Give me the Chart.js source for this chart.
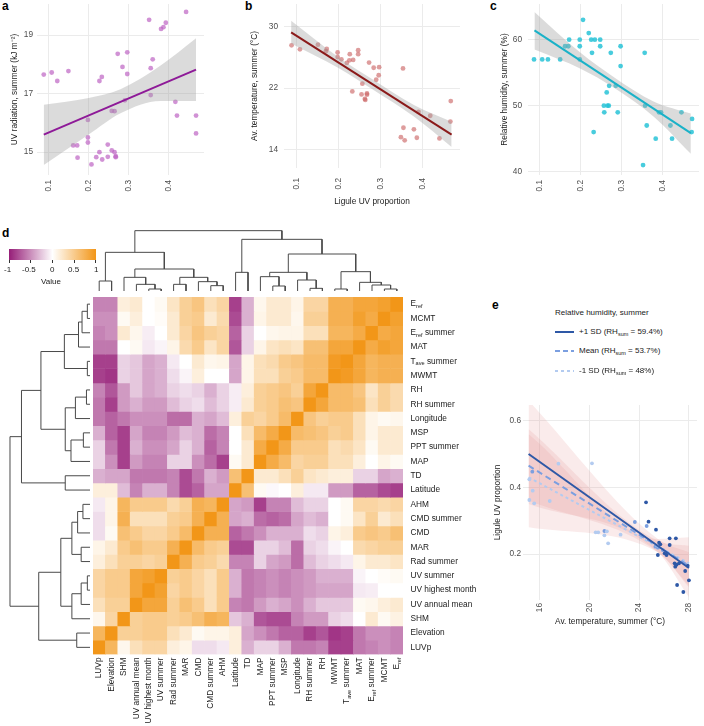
<!DOCTYPE html>
<html><head><meta charset="utf-8">
<script src="https://cdn.jsdelivr.net/npm/chart.js@4.4.1/dist/chart.umd.min.js"></script>
<style>
html,body{margin:0;padding:0;background:#fff;}
body{width:704px;height:726px;position:relative;overflow:hidden;font-family:'Liberation Sans',Arial,sans-serif;color:#1a1a1a;}
canvas{position:absolute;}
.lab{position:absolute;font-weight:bold;font-size:12px;line-height:12px;color:#000;}
.t{position:absolute;font-size:8px;line-height:10px;white-space:nowrap;color:#1a1a1a;}
.t sub{font-size:5.5px;vertical-align:-2px;line-height:0;}
.tk{position:absolute;width:1px;height:3px;background:#333;}
.abs{position:absolute;}
</style></head><body>
<div class="lab" style="left:2px;top:0px">a</div>
<div class="lab" style="left:245px;top:0px">b</div>
<div class="lab" style="left:490px;top:0px">c</div>
<div class="lab" style="left:2px;top:227px">d</div>
<div class="lab" style="left:492px;top:299px">e</div>

<canvas id="ca" width="208" height="200" style="left:0;top:0"></canvas>
<canvas id="cb" width="234" height="215" style="left:230px;top:0"></canvas>
<canvas id="cc" width="238" height="200" style="left:465px;top:0"></canvas>
<canvas id="ctop" width="310" height="63" style="left:93px;top:228px"></canvas>
<canvas id="cleft" width="82" height="358" style="left:8px;top:297px"></canvas>
<canvas id="cheat" width="400" height="429" style="left:93px;top:297px"></canvas>
<canvas id="ce" width="211" height="235" style="left:490px;top:400px"></canvas>

<!-- colour bar legend -->
<div class="abs" style="left:9px;top:249px;width:87px;height:11px;background:linear-gradient(to right, rgb(150,30,120), #fff, rgb(242,150,24));"></div>
<div class="tk" style="left:9px;top:260px"></div>
<div class="tk" style="left:30px;top:260px"></div>
<div class="tk" style="left:52px;top:260px"></div>
<div class="tk" style="left:74px;top:260px"></div>
<div class="tk" style="left:95px;top:260px"></div>
<div class="t" style="left:4px;top:265px">-1</div>
<div class="t" style="left:22px;top:265px">-0.5</div>
<div class="t" style="left:50px;top:265px">0</div>
<div class="t" style="left:68px;top:265px">0.5</div>
<div class="t" style="left:94px;top:265px">1</div>
<div class="t" style="left:41px;top:277px">Value</div>

<!-- legend e -->
<div class="t" style="left:555px;top:308px">Relative humidity, summer</div>
<svg class="abs" style="left:555px;top:330px" width="19" height="4"><line x1="0" y1="2" x2="19" y2="2" stroke="#2e58a6" stroke-width="2"/></svg>
<div class="t" style="left:579px;top:327px">+1 SD (RH<sub>sum</sub> = 59.4%)</div>
<svg class="abs" style="left:555px;top:349px" width="19" height="4"><line x1="0" y1="2" x2="19" y2="2" stroke="#7b9fe0" stroke-width="2" stroke-dasharray="5,3"/></svg>
<div class="t" style="left:579px;top:346px">Mean (RH<sub>sum</sub> = 53.7%)</div>
<svg class="abs" style="left:555px;top:369px" width="19" height="4"><line x1="0" y1="2" x2="19" y2="2" stroke="#b3cbf0" stroke-width="2" stroke-dasharray="3,3"/></svg>
<div class="t" style="left:579px;top:366px">-1 SD (RH<sub>sum</sub> = 48%)</div>

<script>
// ---------------- DATA ----------------
// panel a: UV radiation vs ligule UV proportion
const aX = [0.087,0.107,0.121,0.149,0.161,0.171,0.172,0.198,0.198,0.198,0.207,0.219,0.227,0.227,0.233,0.234,0.248,0.248,0.258,0.258,0.265,0.265,0.268,0.268,0.273,0.285,0.291,0.297,0.297,0.352,0.356,0.356,0.361,0.382,0.388,0.394,0.418,0.422,0.445,0.47,0.47];
const aY = [17.65,17.72,17.43,17.77,15.23,15.23,14.81,16.1,15.5,15.33,14.58,14.83,15.0,17.43,17.57,14.75,15.26,14.84,15.06,16.41,16.4,15.0,14.86,14.83,18.36,17.91,16.77,18.41,17.67,19.52,17.87,16.95,18.17,19.21,19.27,19.42,16.72,16.25,19.79,16.25,15.64];
const fitX = [0.087, 0.47];
const aFit = [15.6, 17.82];
const bandX = [0.087, 0.2, 0.28, 0.38, 0.47];
const aUpper = [16.62, 16.85, 17.15, 17.95, 18.89];
const aLower = [14.56, 15.6, 16.33, 16.75, 16.75];

// panel b: av. temperature summer
const bX = [0.088,0.108,0.151,0.172,0.170,0.198,0.198,0.207,0.22,0.226,0.227,0.235,0.247,0.247,0.233,0.257,0.255,0.263,0.264,0.268,0.268,0.273,0.284,0.29,0.296,0.297,0.354,0.349,0.355,0.358,0.38,0.387,0.391,0.419,0.441,0.467,0.468];
const bY = [27.6,27.08,27.68,27.13,26.83,26.66,26.07,25.77,25.3,25.64,26.45,25.69,26.96,26.45,21.58,22.59,21.19,20.6,20.47,21.32,21.15,25.35,24.67,23.1,23.69,24.75,24.58,15.6,16.83,15.18,16.62,15.52,18.91,18.4,15.43,17.64,20.31];
const bFit = [29.29, 15.94];
const bUpper = [30.8, 26.05, 23.2, 19.8, 17.6];
const bLower = [27.85, 24.65, 21.9, 18.3, 14.33];

// panel c: relative humidity summer
const cX = [0.086,0.106,0.12,0.15,0.162,0.17,0.172,0.198,0.198,0.198,0.206,0.22,0.226,0.228,0.235,0.232,0.248,0.248,0.257,0.258,0.264,0.266,0.269,0.27,0.274,0.286,0.291,0.298,0.298,0.353,0.357,0.358,0.362,0.384,0.392,0.397,0.42,0.424,0.447,0.473,0.472];
const cY = [57,57,57,57,59,59,60,60,59,57,63,61,60,58,60,46,60,59,50,49,52,50,50,53,58,53,49,59,56,41,58,50,47,45,49,49,47,45,49,48,46];
const cFit = [61.4, 45.85];
const cUpper = [64.2, 58.0, 54.4, 50.6, 48.8];
const cLower = [58.5, 55.6, 52.8, 48.3, 42.7];

// panel d: correlation heatmap (rows top->bottom, columns left->right)
const colNames = ['LUVp','Elevation','SHM','UV annual mean','UV highest month','UV summer','Rad summer','MAR','CMD','CMD summer','AHM','Latitude','TD','MAP','PPT summer','MSP','Longitude','RH summer','RH','MWMT','T_{ave} summer','MAT','E_{ref} summer','MCMT','E_{ref}'];
const rowNames = colNames.slice().reverse();
const heat = [
 [-0.55,-0.55,0.15,0.2,0,0.05,0.25,0.45,0.55,0.3,0.4,-0.85,-0.35,0.08,0.2,0.2,0.1,0.4,0.4,0.75,0.75,0.85,0.85,0.9,1],
 [-0.5,-0.5,0.05,0.15,0,0.03,0.2,0.45,0.5,0.2,0.35,-0.8,-0.35,0.1,0.2,0.2,0.08,0.45,0.45,0.75,0.75,0.9,0.8,1,0.9],
 [-0.55,-0.5,0.2,0.08,-0.08,0,0.2,0.4,0.55,0.45,0.4,-0.7,-0.2,0,0.08,0.1,0.1,0.3,0.3,0.7,0.7,0.8,1,0.8,0.85],
 [-0.6,-0.6,0,0.05,-0.1,-0.05,0.1,0.35,0.5,0.25,0.4,-0.75,-0.2,0.1,0.25,0.3,0.25,0.6,0.6,0.85,0.85,1,0.8,0.9,0.85],
 [-0.85,-0.85,-0.2,-0.25,-0.4,-0.35,-0.1,0,0.2,0.08,0.1,-0.4,0.1,0.3,0.35,0.5,0.55,0.65,0.65,0.95,1,0.85,0.7,0.75,0.75],
 [-0.85,-0.9,-0.2,-0.25,-0.4,-0.35,-0.15,-0.05,0.15,0,0,-0.4,0.1,0.3,0.3,0.45,0.5,0.65,0.65,1,0.95,0.85,0.7,0.75,0.75],
 [-0.55,-0.75,-0.45,-0.25,-0.4,-0.35,-0.2,-0.15,-0.2,-0.35,-0.2,-0.08,0.15,0.45,0.5,0.55,0.45,0.85,1,0.65,0.65,0.55,0.25,0.45,0.35],
 [-0.6,-0.85,-0.45,-0.35,-0.45,-0.45,-0.3,-0.2,-0.15,-0.3,-0.2,-0.08,0.2,0.45,0.5,0.6,0.55,1,0.85,0.65,0.65,0.6,0.3,0.45,0.35],
 [-0.6,-0.7,-0.6,-0.5,-0.5,-0.5,-0.65,-0.65,-0.35,-0.4,-0.3,0.15,0.45,0.4,0.5,0.65,1,0.55,0.45,0.5,0.5,0.3,0.1,0.05,0.08],
 [-0.35,-0.7,-0.85,-0.4,-0.55,-0.55,-0.45,-0.3,-0.35,-0.65,-0.55,0,0.3,0.65,0.8,1,0.65,0.6,0.55,0.45,0.5,0.3,0.1,0.2,0.2],
 [-0.2,-0.6,-0.85,-0.35,-0.5,-0.5,-0.4,-0.2,-0.35,-0.7,-0.55,0,0.2,0.8,1,0.8,0.5,0.5,0.5,0.3,0.35,0.25,0.05,0.2,0.2],
 [-0.2,-0.5,-0.85,-0.45,-0.55,-0.55,-0.2,-0.2,-0.5,-0.65,-0.85,0.05,0.2,1,0.8,0.65,0.4,0.45,0.45,0.3,0.3,0.15,0,0.1,0.05],
 [-0.35,-0.4,-0.4,-0.6,-0.6,-0.6,-0.55,-0.8,-0.6,-0.35,-0.45,0.6,1,0.2,0.2,0.3,0.45,0.25,0.2,0.15,0.15,-0.2,-0.2,-0.4,-0.35],
 [0.15,0.15,-0.3,-0.55,-0.35,-0.35,-0.55,-0.8,-0.7,-0.4,-0.4,1,0.6,0.05,-0.03,0,0.15,-0.1,-0.1,-0.45,-0.45,-0.7,-0.7,-0.8,-0.85],
 [-0.1,0.1,0.7,0.5,0.5,0.5,0.35,0.45,0.75,0.7,1,-0.4,-0.45,-0.85,-0.55,-0.55,-0.3,-0.2,-0.2,0,0.05,0.4,0.4,0.35,0.4],
 [-0.15,0.1,0.75,0.3,0.3,0.3,0.45,0.5,0.75,1,0.75,-0.4,-0.35,-0.65,-0.7,-0.65,-0.4,-0.3,-0.35,0,0.05,0.25,0.45,0.2,0.3],
 [-0.15,0.05,0.6,0.5,0.4,0.4,0.5,0.65,1,0.75,0.75,-0.7,-0.6,-0.5,-0.35,-0.35,-0.35,-0.15,-0.2,0.1,0.15,0.5,0.55,0.5,0.6],
 [0.1,0.2,0.5,0.6,0.5,0.5,0.75,1,0.65,0.5,0.45,-0.8,-0.8,-0.2,-0.2,-0.3,-0.65,-0.2,-0.15,-0.05,0,0.35,0.4,0.45,0.45],
 [0.15,0.3,0.45,0.45,0.4,0.45,1,0.75,0.5,0.45,0.35,-0.55,-0.55,-0.2,-0.4,-0.45,-0.65,-0.3,-0.2,-0.15,-0.1,0.1,0.2,0.2,0.25],
 [0.4,0.5,0.5,0.85,0.9,1,0.45,0.5,0.4,0.3,0.5,-0.35,-0.6,-0.55,-0.5,-0.55,-0.5,-0.45,-0.35,-0.35,-0.35,-0.05,0,0.03,0.05],
 [0.4,0.5,0.5,0.85,1,0.9,0.4,0.5,0.4,0.3,0.5,-0.35,-0.6,-0.55,-0.5,-0.55,-0.5,-0.45,-0.4,-0.4,-0.4,-0.1,-0.08,0,0],
 [0.3,0.45,0.45,1,0.85,0.85,0.45,0.6,0.5,0.3,0.5,-0.55,-0.6,-0.45,-0.35,-0.4,-0.5,-0.35,-0.25,-0.25,-0.25,0.05,0.08,0.15,0.2],
 [0.08,0.4,1,0.45,0.5,0.5,0.45,0.5,0.6,0.75,0.7,-0.25,-0.35,-0.75,-0.8,-0.8,-0.55,-0.45,-0.45,-0.2,-0.15,0,0.2,0.05,0.12],
 [0.7,1,0.45,0.45,0.5,0.5,0.3,0.2,0.05,0.1,0.1,0.15,-0.4,-0.5,-0.6,-0.7,-0.7,-0.85,-0.75,-0.9,-0.85,-0.6,-0.5,-0.5,-0.55],
 [1,0.7,0.08,0.3,0.4,0.4,0.15,0.1,-0.15,-0.15,-0.1,0.15,-0.35,-0.2,-0.2,-0.35,-0.6,-0.6,-0.55,-0.85,-0.85,-0.6,-0.55,-0.5,-0.55]
];
// hierarchical clustering tree: [height, left, right], leaves = column index
const dendroTree = [181,[116,[30,0,1],[66,[41,2,[20,3,[6,4,5]]],[41,[20,6,7],[28,8,[16,9,10]]]]],[155,[56,11,12],[111,[56,[43,13,[15,14,15]],[33,16,[8,17,18]]],[58,[6,19,20],[26,21,[18,22,[6,23,24]]]]]]];

// panel e: interaction plot
const eHighX = [24.55,24.75,25.35,25.6,25.7,25.5,26.45,26.95,26.45,26.05,26.2,26.85,26.9,27.0,27.2,27.7,28.0,27.05,27.55,27.9];
const eHighY = [0.355,0.297,0.273,0.234,0.229,0.197,0.247,0.247,0.227,0.202,0.197,0.172,0.162,0.168,0.172,0.149,0.121,0.107,0.086,0.165];
const eMidX = [24.6,23.65,25.3,25.5,25.9,21.2,15.4];
const eMidY = [0.284,0.296,0.222,0.219,0.212,0.269,0.447];
const eLowX = [20.2,20.5,20.7,21.4,21.2,21.5,22.5,15.16,15.43,15.16,15.55,16.8,17.5];
const eLowY = [0.472,0.265,0.265,0.268,0.256,0.232,0.258,0.424,0.39,0.362,0.352,0.359,0.471];
const eLineX = [15.1, 28.0];
const ePlus = [0.50, 0.158];
const eMean = [0.465, 0.165];
const eMinus = [0.43, 0.172];
const eBandX = [15.1, 25.5, 28.0];
const ePlusUp = [0.66, 0.245, 0.205], ePlusLo = [0.35, 0.205, 0.07];
const eMeanUp = [0.575, 0.24, 0.225], eMeanLo = [0.36, 0.205, 0.105];
const eMinusUp = [0.56, 0.245, 0.25], eMinusLo = [0.28, 0.205, 0.1];

// ---------------- RENDER ----------------
const FONT = "'Liberation Sans', Arial, sans-serif";
Chart.defaults.font.family = FONT;
Chart.defaults.font.size = 8.3;
Chart.defaults.color = '#4d4d4d';
Chart.defaults.animation = false;
Chart.defaults.events = [];
Chart.defaults.plugins.legend.display = false;
Chart.defaults.plugins.tooltip.enabled = false;

const pts = (xs, ys) => xs.map((x, i) => ({x, y: ys[i]}));
const GRID = '#ebebeb';
const RIB = 'rgba(160,160,160,0.38)';

function panelOptions(o) {
  return {
    responsive: false,
    layout: {padding: {left: 0, right: o.padRight || 0, top: o.padTop || 0, bottom: 0}},
    scales: {
      x: {
        type: 'linear', min: o.xmin, max: o.xmax,
        afterBuildTicks: s => { s.ticks = o.xticks.map(v => ({value: v})); },
        afterFit: s => { s.height = o.xh; s.paddingLeft = 0; s.paddingRight = 0; },
        grid: {color: GRID, lineWidth: 1, drawTicks: false}, border: {display: false},
        ticks: {minRotation: 90, maxRotation: 90, padding: o.xpad, color: '#4d4d4d', font: {size: 8.3}, callback: v => String(v)},
        title: o.xtitle ? {display: true, text: o.xtitle, color: '#1a1a1a', font: {size: 8.3}, padding: {top: 0, bottom: o.xtitlePad}} : {display: false}
      },
      y: {
        type: 'linear', min: o.ymin, max: o.ymax,
        afterBuildTicks: s => { s.ticks = o.yticks.map(v => ({value: v})); },
        afterFit: s => { s.width = o.yw; s.paddingTop = 0; s.paddingBottom = 0; },
        grid: {color: GRID, lineWidth: 1, drawTicks: false}, border: {display: false},
        ticks: {padding: o.ypad, color: '#4d4d4d', font: {size: 8.3}, callback: v => String(v)},
        title: {display: true, text: o.ytitle, color: '#1a1a1a', font: {size: 8.3}, padding: {top: o.ytitlePad, bottom: 0}}
      }
    }
  };
}

function smoothPanel(id, xs, ys, fit, up, lo, ptCol, lineCol, opts) {
  new Chart(document.getElementById(id), {
    type: 'line',
    data: {datasets: [
      {data: pts(fitX, fit), borderColor: lineCol, borderWidth: 2, pointRadius: 0, order: 0},
      {data: pts(bandX, up), borderWidth: 0, pointRadius: 0, fill: '+1', backgroundColor: RIB, cubicInterpolationMode: 'monotone', order: 1},
      {data: pts(bandX, lo), borderWidth: 0, pointRadius: 0, fill: false, cubicInterpolationMode: 'monotone', order: 2},
      {data: pts(xs, ys), showLine: false, pointRadius: 2.4, pointBorderWidth: 0, pointBackgroundColor: ptCol, order: 3}
    ]},
    options: panelOptions(opts)
  });
}

smoothPanel('ca', aX, aY, aFit, aUpper, aLower, 'rgba(190,100,195,0.7)', '#8e1a98',
  {xmin: 0.07, xmax: 0.49, xticks: [0.1,0.2,0.3,0.4], xh: 25, xpad: 5,
   ymin: 14.22, ymax: 20.06, yticks: [15,17,19], yw: 37, ypad: 4, ytitle: 'UV radiation, summer (kJ m⁻²)', ytitlePad: 10});
smoothPanel('cb', bX, bY, bFit, bUpper, bLower, 'rgba(205,105,105,0.65)', '#8b1a1a',
  {xmin: 0.07, xmax: 0.49, xticks: [0.1,0.2,0.3,0.4], xh: 47, xpad: 10, xtitle: 'Ligule UV proportion', xtitlePad: 8.3,
   ymin: 11.57, ymax: 33.0, yticks: [14,22,30], yw: 54, ypad: 6, ytitle: 'Av. temperature, summer (°C)', ytitlePad: 20});
smoothPanel('cc', cX, cY, cFit, cUpper, cLower, 'rgba(40,195,215,0.85)', '#1ab2c8',
  {xmin: 0.07, xmax: 0.49, xticks: [0.1,0.2,0.3,0.4], xh: 25, xpad: 5,
   ymin: 39.5, ymax: 65.4, yticks: [40,50,60], yw: 62.5, ypad: 5.5, ytitle: 'Relative humidity, summer (%)', ytitlePad: 35});

// panel e
(function () {
  const dark = '#2e58a6', mid = '#7b9fe0', light = '#b3cbf0', pink = 'rgba(228,150,150,0.19)';
  const band = (d, fill) => ({data: d, borderWidth: 0, pointRadius: 0, fill: fill, backgroundColor: pink, cubicInterpolationMode: 'monotone'});
  new Chart(document.getElementById('ce'), {
    type: 'line',
    data: {datasets: [
      {data: pts(eLineX, ePlus), borderColor: dark, borderWidth: 2, pointRadius: 0, order: 0},
      {data: pts(eLineX, eMean), borderColor: mid, borderWidth: 2, borderDash: [6,4], pointRadius: 0, order: 0},
      {data: pts(eLineX, eMinus), borderColor: light, borderWidth: 2, borderDash: [3,3], pointRadius: 0, order: 0},
      Object.assign(band(pts(eBandX, ePlusUp), '+1'), {order: 3}),
      Object.assign(band(pts(eBandX, ePlusLo), false), {order: 3}),
      Object.assign(band(pts(eBandX, eMeanUp), '+1'), {order: 3}),
      Object.assign(band(pts(eBandX, eMeanLo), false), {order: 3}),
      Object.assign(band(pts(eBandX, eMinusUp), '+1'), {order: 3}),
      Object.assign(band(pts(eBandX, eMinusLo), false), {order: 3}),
      {data: pts(eLowX, eLowY), showLine: false, pointRadius: 1.9, pointBorderWidth: 0, pointBackgroundColor: light, order: 2},
      {data: pts(eMidX, eMidY), showLine: false, pointRadius: 1.9, pointBorderWidth: 0, pointBackgroundColor: mid, order: 2},
      {data: pts(eHighX, eHighY), showLine: false, pointRadius: 1.9, pointBorderWidth: 0, pointBackgroundColor: dark, order: 1}
    ]},
    options: panelOptions({xmin: 14.65, xmax: 28.65, xticks: [16,20,24,28], xh: 35, xpad: 3, xtitle: 'Av. temperature, summer (°C)', xtitlePad: 8,
      ymin: 0.062, ymax: 0.647, yticks: [0.2,0.4,0.6], yw: 33, ypad: 2, ytitle: 'Ligule UV proportion', ytitlePad: 3, padTop: 5})
  });
})();

// dendrograms
function dendroSegments(node, out) {
  if (typeof node === 'number') return {pos: node, h: 0};
  const [h, l, r] = node;
  const A = dendroSegments(l, out), B = dendroSegments(r, out);
  out.push([[A.pos, A.h], [A.pos, h], [B.pos, h], [B.pos, B.h]]);
  return {pos: (A.pos + B.pos) / 2, h};
}
const segs = [];
dendroSegments(dendroTree, segs);
const segStyle = {borderColor: '#4a4a4a', borderWidth: 1, pointRadius: 0, clip: false, tension: 0};
new Chart(document.getElementById('ctop'), {
  type: 'line',
  data: {datasets: segs.map(s => Object.assign({data: s.map(([p, h]) => ({x: p, y: h}))}, segStyle))},
  options: {responsive: false, layout: {padding: 0},
    scales: {x: {type: 'linear', display: false, min: -0.5, max: 24.5}, y: {type: 'linear', display: false, min: 0, max: 189}}}
});
new Chart(document.getElementById('cleft'), {
  type: 'line',
  data: {datasets: segs.map(s => Object.assign({data: s.map(([p, h]) => ({x: h, y: 24 - p}))}, segStyle))},
  options: {responsive: false, layout: {padding: {left: 0, right: 0, top: 0, bottom: 0.5}},
    scales: {x: {type: 'linear', display: false, min: 0, max: 185.5, reverse: true}, y: {type: 'linear', display: false, min: -0.5, max: 24.5, reverse: true}}}
});

// heatmap
function heatColor(v) {
  const neg = [150, 30, 120], mid = [255, 255, 255], pos = [242, 150, 24];
  const t = Math.min(1, Math.abs(v)), e = v < 0 ? neg : pos;
  return 'rgb(' + mid.map((m, i) => Math.round(m + (e[i] - m) * t)).join(',') + ')';
}
function drawRich(ctx, text, x, y, align, size) {
  const parts = text.split(/(_\{[^}]*\})/).filter(Boolean).map(p => p.startsWith('_{') ? {t: p.slice(2, -1), sub: true} : {t: p, sub: false});
  const fMain = size + 'px ' + FONT, fSub = (size * 0.68).toFixed(2) + 'px ' + FONT;
  let w = 0;
  parts.forEach(p => { ctx.font = p.sub ? fSub : fMain; p.w = ctx.measureText(p.t).width; w += p.w; });
  let cx = align === 'right' ? x - w : x;
  ctx.textAlign = 'left'; ctx.textBaseline = 'middle';
  parts.forEach(p => { ctx.font = p.sub ? fSub : fMain; ctx.fillText(p.t, cx, y + (p.sub ? size * 0.3 : 0)); cx += p.w; });
}
const heatLabels = {
  id: 'heatLabels',
  afterDraw(chart) {
    const ctx = chart.ctx, xs = chart.scales.x, ys = chart.scales.y, a = chart.chartArea;
    ctx.save();
    ctx.fillStyle = '#1a1a1a';
    rowNames.forEach((n, r) => drawRich(ctx, n, a.right + 7.5, ys.getPixelForValue(24.5 - r), 'left', 8.3));
    colNames.forEach((n, c) => {
      ctx.save();
      ctx.translate(xs.getPixelForValue(c), a.bottom + 3);
      ctx.rotate(-Math.PI / 2);
      drawRich(ctx, n, 0, 0, 'right', 8.3);
      ctx.restore();
    });
    ctx.restore();
  }
};
new Chart(document.getElementById('cheat'), {
  type: 'bar',
  data: {labels: colNames, datasets: heat.map((row, r) => ({
    data: row.map(() => [24 - r, 25 - r]),
    backgroundColor: row.map(heatColor),
    grouped: false, barPercentage: 1, categoryPercentage: 1, borderWidth: 0
  }))},
  options: {responsive: false, layout: {padding: {left: 0, top: 0, right: 90, bottom: 71.5}},
    scales: {x: {display: false}, y: {display: false, min: 0, max: 25}}},
  plugins: [heatLabels]
});
</script>
</body></html>
